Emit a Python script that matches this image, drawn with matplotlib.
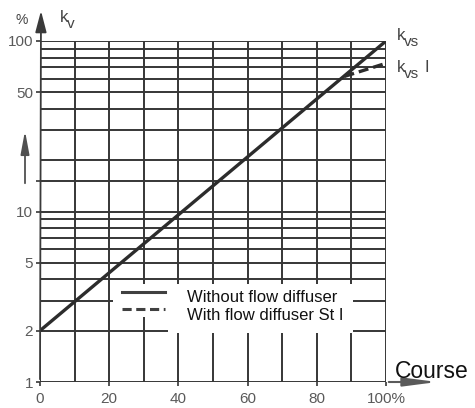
import matplotlib
matplotlib.use('Agg')
import matplotlib.pyplot as plt
from matplotlib.patches import Rectangle, FancyArrowPatch
from matplotlib.lines import Line2D
from matplotlib.ticker import NullLocator, NullFormatter

plt.rcParams['font.family'] = ['Liberation Sans', 'DejaVu Sans']

# Kennlinie (Hub in %, kv in %)
course = [0, 100]
kv_plain = [2, 100]
course_diff = [88, 100]
kv_diff = [62, 74]

x_ticks = [0, 20, 40, 60, 80, 100]
x_labels = ['0', '20', '40', '60', '80', '100%']
y_ticks = [1, 2, 5, 10, 50, 100]
y_labels = ['1', '2', '5', '10', '50', '100']

x_grid = list(range(0, 101, 10))
y_grid = [1, 2, 3, 4, 5, 6, 7, 8, 9, 10, 15, 20, 30, 40, 50, 60, 70, 80, 90, 100]

W, H = 475, 408
fig = plt.figure(figsize=(W / 100, H / 100), dpi=100)
ax = fig.add_axes([40 / W, 1 - 382 / H, 346 / W, 341 / H])
ax.set_yscale('log')
ax.set_xlim(0, 100)
ax.set_ylim(1, 100)

grid_col = '#363636'
for gx in x_grid:
    ax.axvline(gx, color=grid_col, lw=1.4, zorder=1)
for gy in y_grid:
    ax.axhline(gy, color=grid_col, lw=1.4, zorder=1)

ax.plot(course, kv_plain, color='#2c2c2c', lw=2.4, zorder=5, solid_capstyle='butt')
ax.plot(course_diff, kv_diff, color='#2c2c2c', lw=2.4, ls=(0, (3, 1.5)), zorder=5)

# Legende (weisse Felder ueber dem Gitter)
ax.add_patch(Rectangle((21, 2.42), 17, 3.75 - 2.42, facecolor='white', edgecolor='none', zorder=3))
ax.add_patch(Rectangle((37, 1.93), 53.5, 3.75 - 1.93, facecolor='white', edgecolor='none', zorder=3))
ax.add_line(Line2D([23.7, 36.1], [3.37, 3.37], color='#404040', lw=2.2, zorder=4))
ax.add_line(Line2D([23.7, 36.1], [2.68, 2.68], color='#404040', lw=2.2, ls=(0, (3, 1.5)), zorder=4))
ax.text(42.5, 3.15, 'Without flow diffuser', fontsize=12, va='center', ha='left', color='#111111', zorder=4)
ax.text(42.5, 2.47, 'With flow diffuser St I', fontsize=12, va='center', ha='left', color='#111111', zorder=4)

ax.set_xticks(x_ticks)
ax.set_xticklabels(x_labels)
ax.set_yticks(y_ticks)
ax.set_yticklabels(y_labels)
ax.yaxis.set_minor_locator(NullLocator())
ax.set_yticks([15], minor=True)
ax.yaxis.set_minor_formatter(NullFormatter())
ax.tick_params(axis='both', which='both', length=3, width=1.2, color=grid_col,
               labelsize=11, labelcolor='#5a5a5a')
ax.tick_params(axis='y', pad=2)
ax.tick_params(axis='x', pad=4)
for s in ax.spines.values():
    s.set_visible(False)

# Achsenpfeile
fig.patches.append(FancyArrowPatch((40 / W, 1 - 382 / H), (41 / W, 1 - 8 / H),
                                   transform=fig.transFigure, arrowstyle='-|>,head_length=0.65,head_width=0.17',
                                   mutation_scale=20, color='#3a3a3a', lw=1.3))
fig.patches.append(FancyArrowPatch((25 / W, 1 - 186 / H), (25 / W, 1 - 128 / H),
                                   transform=fig.transFigure, arrowstyle='-|>,head_length=0.7,head_width=0.13',
                                   mutation_scale=20, color='#505050', lw=1.3))
fig.patches.append(FancyArrowPatch((386 / W, 1 - 382 / H), (440 / W, 1 - 382 / H),
                                   transform=fig.transFigure, arrowstyle='-|>,head_length=1.0,head_width=0.13',
                                   mutation_scale=20, color='#5a5a5a', lw=1.5))

lab = dict(color='#444444', ha='left', va='center')
fig.text(15 / W, 1 - 20 / H, '%', fontsize=10, **lab)
fig.text(60 / W, 1 - 18 / H, 'k', fontsize=12, **lab)
fig.text(67 / W, 1 - 24 / H, 'v', fontsize=11, **lab)
fig.text(397 / W, 1 - 35 / H, 'k', fontsize=12, **lab)
fig.text(404 / W, 1 - 42 / H, 'vs', fontsize=11, **lab)
fig.text(397 / W, 1 - 67 / H, 'k', fontsize=12, **lab)
fig.text(404 / W, 1 - 74 / H, 'vs', fontsize=11, **lab)
fig.text(425 / W, 1 - 67 / H, 'I', fontsize=12, **lab)
fig.text(395 / W, 1 - 378 / H, 'Course', fontsize=16.5, ha='left', va='baseline', color='#111111')

fig.savefig('out.png', dpi=100, facecolor='white')
